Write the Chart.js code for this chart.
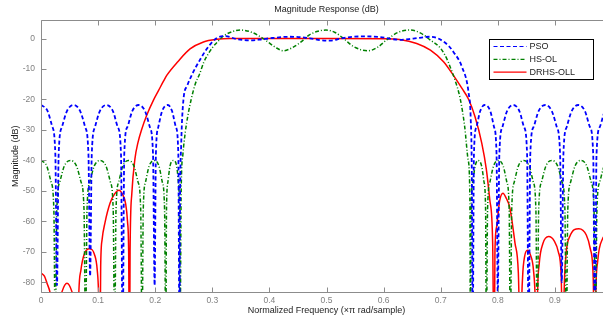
<!DOCTYPE html>
<html>
<head>
<meta charset="utf-8">
<title>Magnitude Response (dB)</title>
<script src="https://cdn.jsdelivr.net/npm/chart.js@4.4.0/dist/chart.umd.min.js"></script>
<style>
  html, body { margin: 0; padding: 0; background: #fff; overflow: hidden; }
  #wrap { width: 660px; height: 322px; }
</style>
</head>
<body>
<div id="wrap"><canvas id="magChart" width="660" height="322"></canvas></div>
<script>
// Frequenz in (x pi rad/sample), Betrag in dB
const psoFreq = [0, 0.011, 0.0194, 0.0251, 0.028, 0.0309, 0.0367, 0.0454, 0.057, 0.0686, 0.0773, 0.0831, 0.086,
  0.0889, 0.0946, 0.1031, 0.1145, 0.1259, 0.1344, 0.1401, 0.143, 0.1458, 0.1514, 0.1598, 0.171, 0.1822, 0.1906, 0.1962, 0.199,
  0.2012, 0.2055, 0.2121, 0.222, 0.2295, 0.2362, 0.2405, 0.2425, 0.2435, 0.2455, 0.2495, 0.256, 0.264, 0.279, 0.293, 0.308,
  0.3225, 0.343, 0.366, 0.385, 0.401, 0.436, 0.471, 0.489, 0.506, 0.525, 0.547, 0.57, 0.594, 0.628, 0.652, 0.682, 0.695,
  0.705, 0.714, 0.722, 0.737, 0.749, 0.7525, 0.7545, 0.756, 0.7582, 0.7626, 0.7692, 0.777, 0.7868, 0.7934, 0.7978, 0.8,
  0.8027, 0.8081, 0.8162, 0.827, 0.8378, 0.8459, 0.8513, 0.854, 0.8569, 0.8627, 0.8714, 0.883, 0.8946, 0.9033, 0.9091, 0.912,
  0.9149, 0.9207, 0.9294, 0.941, 0.9526, 0.9613, 0.9671, 0.97, 0.9729, 0.9787, 0.9874, 0.999];
const psoMag = [-21.8, -23.6, -28.7, -37.8, -81, -38, -29, -23.8, -21.8, -23.8, -29, -38, -78,
  -38, -29, -23.8, -21.8, -23.8, -29, -38, -100, -38, -29, -23.8, -21.8, -23.8, -29, -38, -81,
  -38, -29, -23.8, -21.8, -23.8, -29, -38, -100, -55, -35, -20, -15.5, -12, -6.8, -2.7, 0.2,
  0.8, -0.2, -0.6, -0.3, 0.1, 0.6, 0.1, -0.5, -0.7, 0, 0.6, 0.7, 0.5, -0.4, 0, 0.6, 0.1,
  -1.0, -2.4, -4.3, -9.2, -18, -26, -45, -100, -38, -29, -23.8, -21.8, -23.8, -29, -38, -84,
  -38, -29, -23.8, -21.8, -23.8, -29, -38, -100, -38, -29, -23.8, -21.8, -23.8, -29, -38, -80,
  -38, -29, -23.8, -21.8, -23.8, -29, -38, -100, -38, -29, -23.8, -21.8];

const hsFreq = [0, 0.01, 0.0175, 0.0225, 0.025, 0.0277, 0.033, 0.0409, 0.0515, 0.0621, 0.07, 0.0753, 0.078,
  0.0806, 0.0857, 0.0933, 0.1035, 0.1137, 0.1214, 0.1264, 0.129, 0.1314, 0.1362, 0.1434, 0.153, 0.1626, 0.1698, 0.1746, 0.177,
  0.1791, 0.1832, 0.1895, 0.198, 0.2065, 0.2123, 0.2164, 0.2185, 0.2198, 0.2223, 0.226, 0.232, 0.2375, 0.2405, 0.2423, 0.2435,
  0.2455, 0.2485, 0.2525, 0.2575, 0.263, 0.27, 0.278, 0.285, 0.293, 0.3, 0.308, 0.318, 0.331, 0.35, 0.37, 0.39, 0.41, 0.4245,
  0.44, 0.454, 0.47, 0.483, 0.499, 0.515, 0.532, 0.547, 0.573, 0.59, 0.605, 0.625, 0.646, 0.665, 0.682, 0.699, 0.707, 0.713,
  0.72, 0.725, 0.734, 0.742, 0.748, 0.751, 0.752, 0.7534, 0.7562, 0.7604, 0.765, 0.7716, 0.7758, 0.7786, 0.78,
  0.7821, 0.7863, 0.7926, 0.801, 0.8094, 0.8157, 0.8199, 0.822, 0.8244, 0.829, 0.8361, 0.8455, 0.8549, 0.862, 0.8667, 0.869,
  0.8716, 0.8767, 0.8843, 0.8945, 0.9047, 0.9124, 0.9175, 0.92, 0.9226, 0.9277, 0.9353, 0.9455, 0.9557, 0.9634, 0.9685, 0.971,
  0.9736, 0.9787, 0.9863, 0.9965];
const hsMag = [-40, -41.8, -47, -56, -100, -56, -47, -41.8, -40, -41.8, -47, -56, -100,
  -56, -47, -41.8, -40, -41.8, -47, -56, -100, -56, -47, -41.8, -40, -41.8, -47, -56, -100,
  -56, -47, -41.8, -40, -41.8, -47, -56, -100, -56, -47, -41.8, -40, -41.8, -47, -56, -100,
  -50, -38, -31, -25, -20, -15, -11.5, -7.8, -5, -3, -1.3, 0.6, 2.0, 2.8, 2.0, -0.1, -2.8, -4.0,
  -3.0, -1.3, 1.2, 2.3, 2.8, 2.0, -0.3, -2.6, -4.0, -2.8, -0.5, 2.0, 2.8, 1.8, -0.5, -3.0, -5.3, -7.6,
  -11, -13.6, -19.6, -28.9, -39.8, -51, -100, -56, -47, -41.8, -40, -41.8, -47, -56, -100,
  -56, -47, -41.8, -40, -41.8, -47, -56, -100, -56, -47, -41.8, -40, -41.8, -47, -56, -100,
  -56, -47, -41.8, -40, -41.8, -47, -56, -100, -56, -47, -41.8, -40, -41.8, -47, -56, -100,
  -56, -47, -41.8, -40];

const drFreq = [0, 0.006, 0.0105, 0.016, 0.021, 0.027, 0.029, 0.0325, 0.037, 0.0455, 0.054, 0.0585, 0.062, 0.064,
  0.066, 0.0699, 0.0757, 0.085, 0.0935, 0.0985, 0.101, 0.103, 0.1045, 0.107, 0.112, 0.121, 0.129, 0.1365, 0.143, 0.148,
  0.1515, 0.1535, 0.155, 0.156, 0.159, 0.1645, 0.17, 0.176, 0.1855, 0.197, 0.206, 0.2145, 0.2205, 0.24, 0.261, 0.2845,
  0.308, 0.331, 0.4, 0.5, 0.6, 0.628, 0.658, 0.682, 0.705, 0.722, 0.737, 0.749, 0.76, 0.772, 0.78, 0.786, 0.791, 0.7935,
  0.795, 0.798, 0.803, 0.809, 0.815, 0.821, 0.83, 0.836, 0.8405, 0.8415, 0.8435, 0.847, 0.852, 0.857, 0.8625, 0.866, 0.868,
  0.8695, 0.8725, 0.879, 0.889, 0.899, 0.906, 0.911, 0.9145, 0.916, 0.919, 0.926, 0.942, 0.955, 0.962, 0.967, 0.97,
  0.9715, 0.975, 0.984, 0.995];
const drMag = [-77, -78, -80.3, -83.5, -90, -110, -96, -87, -83, -80.3, -83, -87, -96, -110,
  -85, -76, -70.8, -69, -70.8, -76, -85, -110, -75, -66, -60.5, -54, -51, -49.8, -51.2, -54,
  -60, -70, -110, -70, -51, -39.5, -34, -30, -25, -20.2, -17, -14, -12, -7.5, -3.4, -1.1,
  -0.25, 0, 0, 0, -0.05, -0.3, -1.6, -3.8, -7.6, -12, -16.3, -20, -25.6, -34.4, -43, -53, -67, -110,
  -70, -61.7, -53.5, -50.8, -52.5, -55.5, -67, -77, -110, -90, -78, -71.5, -69.5, -71, -76, -88, -110,
  -85, -74, -67.3, -65, -66.5, -70, -78, -110, -85, -72, -65, -62.4, -64.5, -69, -78, -110,
  -85, -73, -65.5, -63];

const seriesNames = ['PSO', 'HS-OL', 'DRHS-OLL'];
const xTicks = [0, 0.1, 0.2, 0.3, 0.4, 0.5, 0.6, 0.7, 0.8, 0.9, 1];
const xTickLabels = ['0', '0.1', '0.2', '0.3', '0.4', '0.5', '0.6', '0.7', '0.8', '0.9', '1'];
const yTicks = [-80, -70, -60, -50, -40, -30, -20, -10, 0];
const yTickLabels = ['-80', '-70', '-60', '-50', '-40', '-30', '-20', '-10', '0'];

const FONT = '"Liberation Sans", Arial, Helvetica, sans-serif';

function toPoints(freq, mag) {
    return freq.map((f, i) => ({ x: f, y: mag[i] }));
}

// Achsenrahmen + Ticks nach innen (wie MATLAB)
const axisBox = {
    id: 'axisBox',
    afterDatasetsDraw(chart) {
        const { ctx, chartArea: a, scales: { x, y } } = chart;
        const L = Math.round(a.left) + 0.5, R = Math.round(a.right) + 0.5;
        const T = Math.round(a.top) + 0.5, B = Math.round(a.bottom) + 0.5;
        ctx.save();
        ctx.strokeStyle = '#8c8c8c';
        ctx.lineWidth = 1;
        ctx.beginPath();
        ctx.rect(L, T, R - L, B - T);
        xTicks.forEach(v => {
            const px = Math.round(x.getPixelForValue(v)) + 0.5;
            ctx.moveTo(px, B); ctx.lineTo(px, B - 5);
            ctx.moveTo(px, T); ctx.lineTo(px, T + 5);
        });
        yTicks.forEach(v => {
            const py = Math.round(y.getPixelForValue(v)) + 0.5;
            ctx.moveTo(L, py); ctx.lineTo(L + 5, py);
            ctx.moveTo(R, py); ctx.lineTo(R - 5, py);
        });
        ctx.stroke();
        ctx.restore();
    }
};

// Legende im Plotbereich oben rechts
const boxLegend = {
    id: 'boxLegend',
    afterDraw(chart) {
        const { ctx } = chart;
        const bx = 489.5, by = 39.5, bw = 104, bh = 40;
        ctx.save();
        ctx.fillStyle = '#fff';
        ctx.fillRect(bx, by, bw, bh);
        ctx.strokeStyle = '#000';
        ctx.lineWidth = 1;
        ctx.strokeRect(bx, by, bw, bh);
        chart.data.datasets.forEach((ds, i) => {
            const ly = by + 7 + i * 12.8;
            ctx.beginPath();
            ctx.strokeStyle = ds.borderColor;
            ctx.lineWidth = 1.2;
            ctx.setLineDash(ds.borderDash || []);
            ctx.moveTo(bx + 4, ly);
            ctx.lineTo(bx + 37, ly);
            ctx.stroke();
            ctx.setLineDash([]);
            ctx.fillStyle = '#222';
            ctx.font = '9px ' + FONT;
            ctx.textBaseline = 'middle';
            ctx.fillText(ds.label, bx + 40, ly + 0.5);
        });
        ctx.restore();
    }
};

new Chart(document.getElementById('magChart'), {
    type: 'line',
    data: {
        datasets: [
            {
                label: seriesNames[0],
                data: toPoints(psoFreq, psoMag),
                borderColor: '#0000ff',
                borderWidth: 1.8,
                borderDash: [4, 2.5],
                pointRadius: 0,
                fill: false,
                cubicInterpolationMode: 'monotone'
            },
            {
                label: seriesNames[1],
                data: toPoints(hsFreq, hsMag),
                borderColor: '#008000',
                borderWidth: 1.5,
                borderDash: [4, 2, 1, 2],
                pointRadius: 0,
                fill: false,
                cubicInterpolationMode: 'monotone'
            },
            {
                label: seriesNames[2],
                data: toPoints(drFreq, drMag),
                borderColor: '#ff0000',
                borderWidth: 1.5,
                pointRadius: 0,
                fill: false,
                cubicInterpolationMode: 'monotone'
            }
        ]
    },
    options: {
        responsive: false,
        animation: false,
        layout: { padding: { left: 0, right: 48, top: 0, bottom: 0 } },
        plugins: {
            legend: { display: false },
            tooltip: { enabled: false },
            title: {
                display: true,
                text: 'Magnitude Response (dB)',
                fullSize: false,
                color: '#222',
                font: { family: FONT, size: 9, weight: 'normal' },
                padding: { top: 4, bottom: 5.5 }
            }
        },
        scales: {
            x: {
                type: 'linear',
                min: 0,
                max: 1,
                grid: { display: false, drawTicks: false, tickLength: 0 },
                border: { display: false },
                afterBuildTicks: s => { s.ticks = xTicks.map(v => ({ value: v })); },
                afterFit: s => { s.height = 30; },
                ticks: {
                    color: '#808080',
                    font: { family: FONT, size: 8.5 },
                    padding: 4,
                    maxRotation: 0,
                    autoSkip: false,
                    callback: (v, i) => xTickLabels[i]
                },
                title: {
                    display: true,
                    text: 'Normalized Frequency (×π rad/sample)',
                    color: '#222',
                    font: { family: FONT, size: 9 },
                    padding: { top: 0, bottom: 6 }
                }
            },
            y: {
                min: -83.2,
                max: 6,
                grid: { display: false, drawTicks: false, tickLength: 0 },
                border: { display: false },
                afterBuildTicks: s => { s.ticks = yTicks.map(v => ({ value: v })); },
                afterFit: s => { s.width = 41; },
                ticks: {
                    color: '#808080',
                    font: { family: FONT, size: 8.5 },
                    padding: 6,
                    autoSkip: false,
                    callback: (v, i) => yTickLabels[i]
                },
                title: {
                    display: true,
                    text: 'Magnitude (dB)',
                    color: '#222',
                    font: { family: FONT, size: 9 },
                    padding: { top: 10, bottom: 0 }
                }
            }
        }
    },
    plugins: [axisBox, boxLegend]
});
</script>
</body>
</html>
